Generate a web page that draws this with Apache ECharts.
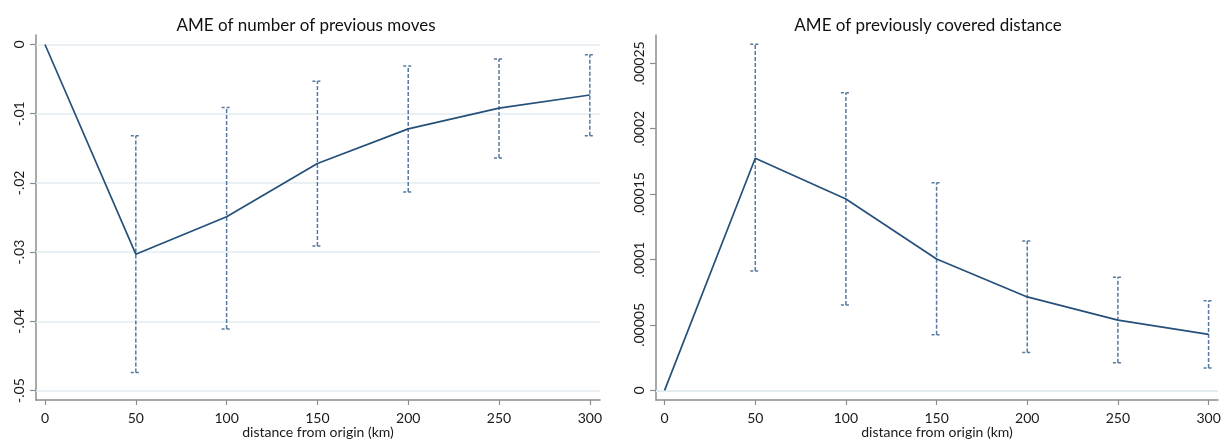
<!DOCTYPE html>
<html>
<head>
<meta charset="utf-8">
<title>Average marginal effects by distance from origin</title>
<script src="https://cdn.jsdelivr.net/npm/echarts@6/dist/echarts.min.js"></script>
<style>
  html, body { margin: 0; padding: 0; background: #ffffff; }
  #chart { width: 1229px; height: 439px; }
</style>
</head>
<body>
<div id="chart"></div>
<script>
// Distance from origin (km)
const distances = [0, 50, 100, 150, 200, 250, 300];
const xTicks = [0, 50, 100, 150, 200, 250, 300];

// AME of number of previous moves, with 95% CI bounds
const movesAME = [0, -0.0303, -0.0249, -0.0172, -0.0122, -0.0092, -0.0073];
const movesLow = [null, -0.0474, -0.0411, -0.0291, -0.0213, -0.0164, -0.0132];
const movesHigh = [null, -0.0132, -0.0091, -0.0053, -0.0031, -0.0021, -0.0015];
const movesTicks = [0, -0.01, -0.02, -0.03, -0.04, -0.05];
const movesTickLabels = ['0', '-.01', '-.02', '-.03', '-.04', '-.05'];

// AME of previously covered distance, with 95% CI bounds
const distAME = [0, 0.0001774, 0.0001463, 0.0001004, 0.0000714, 0.0000537, 0.0000428];
const distLow = [null, 0.0000912, 0.0000652, 0.0000425, 0.0000289, 0.0000211, 0.0000170];
const distHigh = [null, 0.0002645, 0.0002275, 0.0001587, 0.0001141, 0.0000864, 0.0000685];
const distTicks = [0, 0.00005, 0.0001, 0.00015, 0.0002, 0.00025];
const distTickLabels = ['0', '.00005', '.0001', '.00015', '.0002', '.00025'];

const titles = ['AME of number of previous moves', 'AME of previously covered distance'];
const xTitle = 'distance from origin (km)';

const FONT = 'Lato, "Open Sans", sans-serif';
const LINE_COLOR = '#25507a';
const CI_COLOR = '#55799f';
const AXIS_COLOR = '#8c8c8c';
const GRID_COLOR = '#e3edf1';
const TEXT_COLOR = '#1a1a1a';

function labelFor(v, ticks, labels) {
  let best = 0;
  for (let i = 1; i < ticks.length; i++) {
    if (Math.abs(ticks[i] - v) < Math.abs(ticks[best] - v)) best = i;
  }
  return labels[best];
}

function pairs(xs, ys) {
  return xs.map((x, i) => [x, ys[i]]);
}

function ciData(xs, lo, hi) {
  const out = [];
  xs.forEach((x, i) => {
    if (lo[i] !== null && hi[i] !== null) out.push([x, lo[i], hi[i]]);
  });
  return out;
}

// Dashed vertical range with short caps at both ends
function renderCI(params, api) {
  const x = api.value(0);
  const pLo = api.coord([x, api.value(1)]);
  const pHi = api.coord([x, api.value(2)]);
  const half = 5;
  const bar = { stroke: CI_COLOR, lineWidth: 1.5, lineDash: [4, 2] };
  const cap = { stroke: CI_COLOR, lineWidth: 1.5, lineDash: [3, 2] };
  return {
    type: 'group',
    children: [
      { type: 'line', shape: { x1: pLo[0], y1: pLo[1], x2: pHi[0], y2: pHi[1] }, style: bar },
      { type: 'line', shape: { x1: pLo[0] - half, y1: pLo[1], x2: pLo[0] + half, y2: pLo[1] }, style: cap },
      { type: 'line', shape: { x1: pHi[0] - half, y1: pHi[1], x2: pHi[0] + half, y2: pHi[1] }, style: cap }
    ]
  };
}

function xAxisFor(gridIndex, min, max) {
  return {
    type: 'value', gridIndex: gridIndex, min: min, max: max,
    name: xTitle, nameLocation: 'middle', nameGap: 25, nameMoveOverlap: false,
    nameTextStyle: { fontFamily: FONT, fontSize: 14, color: TEXT_COLOR },
    axisLine: { show: true, onZero: false, lineStyle: { color: AXIS_COLOR, width: 1.5 } },
    axisTick: { show: true, length: 5, customValues: xTicks, lineStyle: { color: AXIS_COLOR, width: 1.2 } },
    axisLabel: { customValues: xTicks, margin: 11, fontFamily: FONT, fontSize: 14, color: TEXT_COLOR },
    splitLine: { show: false }
  };
}

function yAxisFor(gridIndex, min, max, ticks, labels) {
  return {
    type: 'value', gridIndex: gridIndex, min: min, max: max,
    axisLine: { show: true, onZero: false, lineStyle: { color: AXIS_COLOR, width: 1.5 } },
    axisTick: { show: true, length: 6, customValues: ticks, lineStyle: { color: AXIS_COLOR, width: 1.2 } },
    axisLabel: {
      customValues: ticks, rotate: 90, margin: 10,
      fontFamily: FONT, fontSize: 14, color: TEXT_COLOR,
      formatter: v => labelFor(v, ticks, labels)
    },
    splitLine: { show: false }
  };
}

// Horizontal reference lines at each y tick, kept beneath the data
function gridLines(ticks) {
  return {
    silent: true, symbol: 'none', z: 1, label: { show: false },
    lineStyle: { color: GRID_COLOR, width: 1.5, type: 'solid' },
    emphasis: { disabled: true },
    data: ticks.map(t => ({ yAxis: t }))
  };
}

const chart = echarts.init(document.getElementById('chart'), null, { renderer: 'canvas' });

chart.setOption({
  backgroundColor: '#ffffff',
  animation: false,
  title: [
    { text: titles[0], left: 301, top: 12, textAlign: 'center', textStyle: { fontFamily: FONT, fontSize: 17, fontWeight: 'normal', color: '#111' } },
    { text: titles[1], left: 923, top: 12, textAlign: 'center', textStyle: { fontFamily: FONT, fontSize: 17, fontWeight: 'normal', color: '#111' } }
  ],
  grid: [
    { left: 36, right: 629, top: 35, bottom: 39, containLabel: false, outerBoundsMode: 'none' },
    { left: 656, right: 11, top: 35, bottom: 39, containLabel: false, outerBoundsMode: 'none' }
  ],
  xAxis: [
    xAxisFor(0, -4.96, 305.6),
    xAxisFor(1, -4.74, 305.2)
  ],
  yAxis: [
    yAxisFor(0, -0.05137, 0.00137, movesTicks, movesTickLabels),
    yAxisFor(1, -0.0000074, 0.0002716, distTicks, distTickLabels)
  ],
  series: [
    {
      type: 'line', xAxisIndex: 0, yAxisIndex: 0, z: 1,
      data: [], markLine: gridLines(movesTicks)
    },
    {
      type: 'line', xAxisIndex: 1, yAxisIndex: 1, z: 1,
      data: [], markLine: gridLines(distTicks)
    },
    {
      type: 'custom', xAxisIndex: 0, yAxisIndex: 0, z: 3,
      renderItem: renderCI, encode: { x: 0, y: [1, 2] },
      data: ciData(distances, movesLow, movesHigh)
    },
    {
      type: 'custom', xAxisIndex: 1, yAxisIndex: 1, z: 3,
      renderItem: renderCI, encode: { x: 0, y: [1, 2] },
      data: ciData(distances, distLow, distHigh)
    },
    {
      type: 'line', xAxisIndex: 0, yAxisIndex: 0, z: 4,
      data: pairs(distances, movesAME), symbol: 'none',
      lineStyle: { color: LINE_COLOR, width: 1.7 }
    },
    {
      type: 'line', xAxisIndex: 1, yAxisIndex: 1, z: 4,
      data: pairs(distances, distAME), symbol: 'none',
      lineStyle: { color: LINE_COLOR, width: 1.7 }
    }
  ]
});
</script>
</body>
</html>
